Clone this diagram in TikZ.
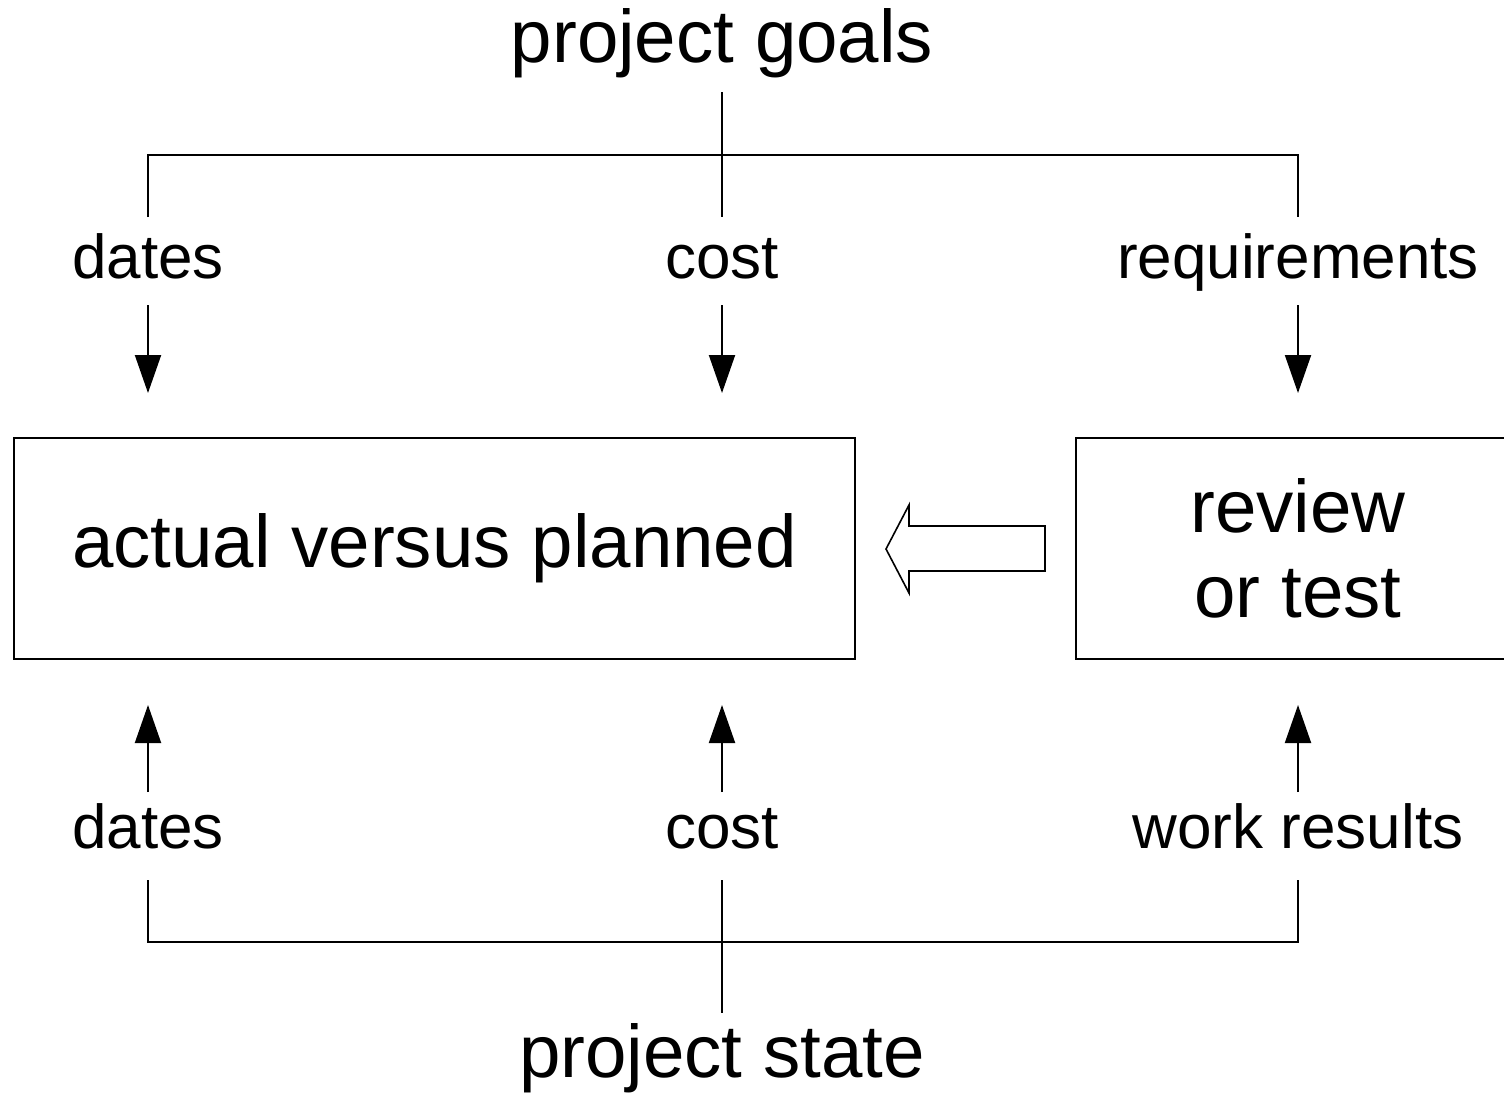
\documentclass[tikz,border=0pt]{standalone}
\usepackage{fontspec}
\setmainfont{Liberation Sans}
\usetikzlibrary{arrows.meta}
\begin{document}
\begin{tikzpicture}[x=0.5pt,y=-0.5pt,
  line width=1pt,
  big/.style={font=\fontsize{37.25}{42.5}\selectfont},
  small/.style={font=\fontsize{31}{37}\selectfont},
  lbl/.style={small,inner sep=0pt,anchor=base},
  ttl/.style={big,inner sep=0pt,anchor=base},
  boxnode/.style={draw,big,line width=0.8pt,inner sep=0pt,align=center},
  arr/.style={-{Triangle[length=19pt,width=13pt]}}
]
\useasboundingbox (0,0) rectangle (1504,1092);
\clip (0,0) rectangle (1504,1092);

% boxes
\node[boxnode,minimum width=841*0.5pt,minimum height=221*0.5pt] (avp) at (434.5,548.5) {actual versus planned};
\node[boxnode,minimum width=444*0.5pt,minimum height=221*0.5pt] (rev) at (1298,548.5) {review\\or test};

% hollow arrow
\draw[line width=0.8pt] (886,549) -- (909,505) -- (909,526) -- (1045,526) -- (1045,571) -- (909,571) -- (909,593) -- cycle;

% top labels
\node[ttl] (goals) at (722,62) {project goals};
\node[lbl] (d1) at (148,278) {dates};
\node[lbl] (c1) at (722,278) {cost};
\node[lbl] (r1) at (1298,278) {requirements};

% bottom labels
\node[lbl] (d2) at (148,848) {dates};
\node[lbl] (c2) at (722,848) {cost};
\node[lbl] (w2) at (1298,848) {work results};
\node[ttl] (state) at (722,1077) {project state};

% top tree
\coordinate (gt) at (722,92);
\coordinate (gb) at (722,217);
\coordinate (ta) at (148,217);
\coordinate (tb) at (1298,217);
\draw (gt) -- (gb);
\draw (ta) -- (148,155) -- (1298,155) -- (tb);

% down arrows
\coordinate (a1s) at (148,305); \coordinate (a1e) at (148,393);
\coordinate (a2s) at (722,305); \coordinate (a2e) at (722,393);
\coordinate (a3s) at (1298,305); \coordinate (a3e) at (1298,393);
\draw[arr] (a1s) -- (a1e);
\draw[arr] (a2s) -- (a2e);
\draw[arr] (a3s) -- (a3e);

% up arrows
\coordinate (b1s) at (148,792); \coordinate (b1e) at (148,705);
\coordinate (b2s) at (722,792); \coordinate (b2e) at (722,705);
\coordinate (b3s) at (1298,792); \coordinate (b3e) at (1298,705);
\draw[arr] (b1s) -- (b1e);
\draw[arr] (b2s) -- (b2e);
\draw[arr] (b3s) -- (b3e);

% bottom tree
\coordinate (st) at (722,880);
\coordinate (sb) at (722,1013);
\coordinate (ba) at (148,880);
\coordinate (bb) at (1298,880);
\draw (st) -- (sb);
\draw (ba) -- (148,942) -- (1298,942) -- (bb);
\end{tikzpicture}
\end{document}
